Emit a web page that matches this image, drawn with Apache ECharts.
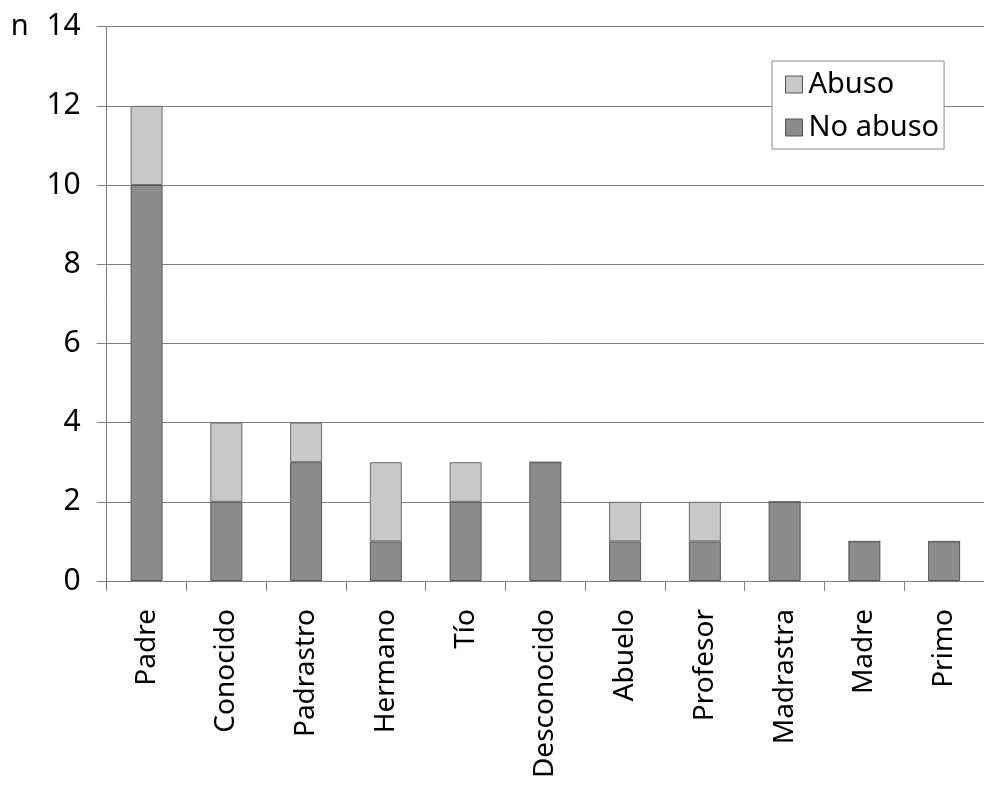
<!DOCTYPE html>
<html>
<head>
<meta charset="utf-8">
<script src="https://cdn.jsdelivr.net/npm/echarts@6/dist/echarts.min.js"></script>
<style>
html,body{margin:0;padding:0;background:#fff;}
#chart{width:984px;height:785px;}
</style>
</head>
<body>
<div id="chart"></div>
<script>
const categories = ['Padre','Conocido','Padrastro','Hermano','Tío','Desconocido','Abuelo','Profesor','Madrastra','Madre','Primo'];
const noAbuso = [10,2,3,1,2,3,1,1,2,1,1];
const abuso = [2,2,1,2,1,0,1,1,0,0,0];
const yTicks = [0,2,4,6,8,10,12,14];

const FONT = 'Noto Sans';
const chart = echarts.init(document.getElementById('chart'));
chart.setOption({
  animation: false,
  backgroundColor: '#ffffff',
  textStyle: { fontFamily: FONT },
  grid: { left: 106.7, right: -12.7, top: 26.7, bottom: 204, containLabel: false },
  legend: {
    orient: 'vertical',
    left: 772, top: 61,
    data: ['Abuso','No abuso'],
    itemWidth: 17, itemHeight: 17,
    itemGap: 12,
    padding: [8, 5, 6, 13],
    backgroundColor: '#ffffff',
    borderColor: '#8a8a8a', borderWidth: 1,
    icon: 'rect',
    textStyle: { fontFamily: FONT, fontSize: 29, color: '#000', lineHeight: 31, padding: [0,0,0,1] },
    itemStyle: { borderColor: '#555', borderWidth: 1 }
  },
  xAxis: {
    type: 'category',
    data: categories,
    axisLine: { lineStyle: { color: '#808080', width: 1 } },
    axisTick: { show: true, length: 10, alignWithLabel: false, lineStyle: { color: '#808080' } },
    axisLabel: { rotate: 90, margin: 28, fontFamily: FONT, fontSize: 28, color: '#000', interval: 0 }
  },
  yAxis: {
    type: 'value',
    min: 0, max: 14, interval: 2,
    name: 'n',
    nameLocation: 'end',
    nameGap: 0,
    nameTextStyle: { fontFamily: FONT, fontSize: 29, color: '#000', align: 'right', verticalAlign: 'middle', padding: [0, 78, 0, 0] },
    axisLine: { show: true, lineStyle: { color: '#808080', width: 1 } },
    axisTick: { show: true, length: 10, lineStyle: { color: '#808080' } },
    axisLabel: { margin: 26, fontFamily: FONT, fontSize: 30, color: '#000',
      formatter: v => yTicks.includes(v) ? String(v) : '' },
    splitLine: { show: true, lineStyle: { color: '#808080', width: 1 } }
  },
  series: [
    { name: 'No abuso', type: 'bar', stack: 's', data: noAbuso, barWidth: 32,
      itemStyle: { color: '#8c8c8c', borderColor: '#555555', borderWidth: 1 } },
    { name: 'Abuso', type: 'bar', stack: 's', data: abuso, barWidth: 32,
      itemStyle: { color: '#c8c8c8', borderColor: '#6a6a6a', borderWidth: 1 } }
  ]
});
</script>
</body>
</html>
